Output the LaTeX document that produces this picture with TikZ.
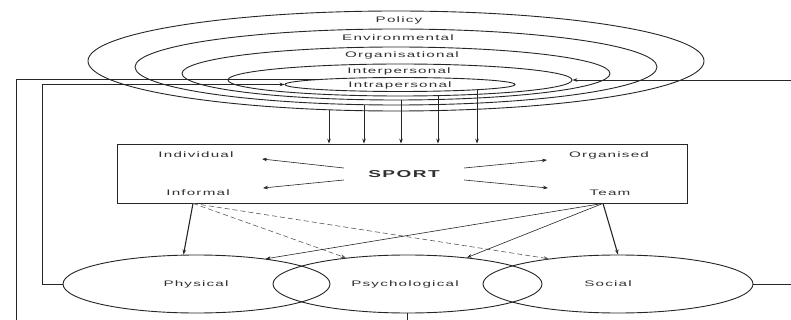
\documentclass[tikz,border=0pt]{standalone}
\usepackage{fontspec}
\setmainfont{Liberation Sans}
\newfontfamily\lblfont[FakeStretch=1.9,LetterSpace=15]{Liberation Sans}
\usetikzlibrary{shapes.geometric,arrows.meta}
\definecolor{ink}{HTML}{262626}
\definecolor{txt}{HTML}{303030}
\definecolor{dashink}{HTML}{5A5A5A}
\begin{document}
\begin{tikzpicture}[x=1pt,y=-1pt,
  ring/.style={draw=ink, ellipse, inner sep=0pt, line width=0.9pt},
  lbl/.style={font={\lblfont\fontsize{8}{9.6}\selectfont}, text=txt, inner sep=1pt},
  link/.style={draw=ink, line width=0.8pt},
  tip/.style={-{Stealth[length=5pt,width=3.6pt]}},
  thinlink/.style={line width=0.6pt},
  heavylink/.style={line width=1.1pt},
  dashlink/.style={draw=dashink, dash pattern=on 5pt off 3pt},
]
\useasboundingbox (0,0) rectangle (791,320);
\clip (0,0) rectangle (791,320);

% central SPORT box
\node[draw=ink, line width=0.8pt, minimum width=570pt, minimum height=59pt, inner sep=0pt] (box) at (402,173.5) {};

% nested levels of influence
\node[ring, minimum width=616pt, minimum height=100pt] (policy)  at (396,61)   {};
\node[ring, minimum width=522pt, minimum height=76pt]  (environ) at (396,67)   {};
\node[ring, minimum width=428pt, minimum height=53pt]  (organis) at (396,73.5) {};
\node[ring, minimum width=344pt, minimum height=32pt]  (inter)   at (400,80)   {};
\node[ring, minimum width=230pt, minimum height=14pt]  (intra)   at (400,84.5) {};

\node[lbl] (tpolicy)  at (399,20) {Policy};
\node[lbl] (tenviron) at (398,38) {Environmental};
\node[lbl] (torganis) at (402,55) {Organisational};
\node[lbl] (tinter)   at (399,71) {Interpersonal};
\node[lbl] (tintra)   at (400,85) {Intrapersonal};

% each level feeds down into sport
\foreach \r/\dx/\dy in {policy/-67/1, environ/-32/0.3, organis/5/0, inter/38/0.5, intra/77/1.8}
  \draw[link,tip] ([xshift=\dx pt,yshift=\dy pt]\r.south) -- ([xshift=\dx pt]\r.south |- box.north);

% contents of the box
\node[font={\lblfont\bfseries\fontsize{10}{12}\selectfont}, text=txt, minimum width=120pt, inner sep=0pt] (sport) at (404,174) {SPORT};
\node[lbl] (individual) at (196,155) {Individual};
\node[lbl] (informal)   at (198,193) {Informal};
\node[lbl] (organised)  at (609,155) {Organised};
\node[lbl] (team)       at (610,193) {Team};

\coordinate (indtip)  at (262,159);
\coordinate (inftip)  at (263,188);
\coordinate (orgtip)  at (547,160);
\coordinate (teamtip) at (548,188);
\draw[link,thinlink,tip] ([yshift=6pt]sport.west)  -- (indtip);
\draw[link,thinlink,tip] ([yshift=-6pt]sport.west) -- (inftip);
\draw[link,thinlink,tip] ([yshift=6pt]sport.east)  -- (orgtip);
\draw[link,thinlink,tip] ([yshift=-6pt]sport.east) -- (teamtip);

% outcome domains
\node[ring, minimum width=267pt, minimum height=58pt] (physical) at (196.5,284) {};
\node[ring, minimum width=269pt, minimum height=58pt] (psych)    at (407.5,284) {};
\node[ring, minimum width=270pt, minimum height=58pt] (social)   at (618,284)   {};
\node[lbl] (tphysical) at (196,284) {Physical};
\node[lbl] (tpsych)    at (405,284) {Psychological};
\node[lbl] (tsocial)   at (608,284) {Social};

% links from sport types to outcomes
\coordinate (infout)  at ([xshift=-5pt]informal.south |- box.south);
\coordinate (teamout) at ([xshift=-7pt]team.south |- box.south);
\draw[link,heavylink,tip] (infout) -- ([xshift=-13pt]physical.north);
\draw[link,thinlink,dashlink,tip] (infout) -- (psych.157.9);
\draw[link,thinlink,dashlink,tip] (infout) -- (social.160.8);
\draw[link,thinlink,tip] (teamout) -- (physical.20.5);
\draw[link,thinlink,tip] (teamout) -- (psych.24.8);
\draw[link,heavylink,tip] (teamout) -- (social.north);

% feedback loops back to the individual levels
\coordinate (aend) at (intra.176.8);
\draw[link] (psych.south) -- ++(0,20) -| ([xshift=-305pt]aend) -- (aend);
\draw[link,tip] (physical.west) -- ++(-20,0) |- (intra.west);
\draw[link,tip] (social.east) -- ++(60,0) |- (inter.east);
\end{tikzpicture}
\end{document}
